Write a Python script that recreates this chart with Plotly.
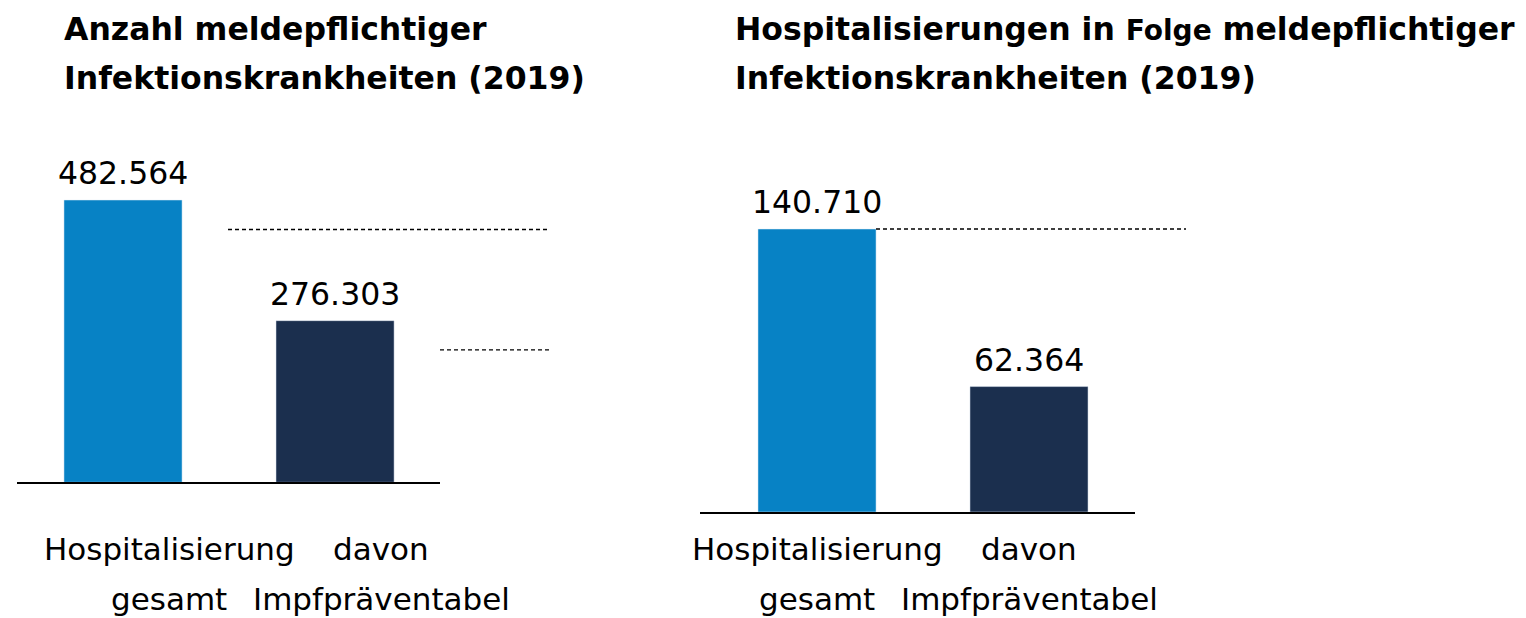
import plotly.graph_objects as go

# ---------------- data ----------------
categories = ["Hospitalisierung gesamt", "davon Impfpräventabel"]
label_line1 = ["Hospitalisierung", "davon"]
label_line2 = ["gesamt", "Impfpräventabel"]

left_title = ["Anzahl meldepflichtiger", "Infektionskrankheiten (2019)"]
right_title = ["Hospitalisierungen in <span style='font-size:28px'>Folge</span> meldepflichtiger",
               "Infektionskrankheiten (2019)"]

left_values = [482564, 276303]
right_values = [140710, 62364]

left_guides = [432100, 226200]   # dashed reference lines (value units)
right_guides = [140710]

bar_colors = ["#0782C5", "#1B2F4E"]

# ---------------- layout helpers ----------------
W, H = 1526, 618
FONT = "DejaVu Sans"


def px_x(p):
    return p / W


def px_y(p):
    return (H - p) / H


xpos = [0, 1]

fig = go.Figure()

fig.add_trace(go.Bar(x=xpos, y=left_values, marker_color=bar_colors, width=0.557,
                     xaxis="x", yaxis="y", hoverinfo="skip", showlegend=False))
fig.add_trace(go.Bar(x=xpos, y=right_values, marker_color=bar_colors, width=0.557,
                     xaxis="x2", yaxis="y2", hoverinfo="skip", showlegend=False))


def fmt(v):
    return f"{v:,}".replace(",", ".")


annotations = []
# value labels
for xa, ya, vals in (("x", "y", left_values), ("x2", "y2", right_values)):
    for xi, v in zip(xpos, vals):
        annotations.append(dict(x=xi, y=v, xref=xa, yref=ya, text=fmt(v), showarrow=False,
                                yanchor="bottom", xanchor="center", yshift=7,
                                font=dict(family=FONT, size=31.5, color="#000")))

# category labels (two lines each)
for xa, offset in (("x", 0.217), ("x2", 0.0)):
    for xi, l1, l2 in zip(xpos, label_line1, label_line2):
        annotations.append(dict(x=xi + offset, y=px_y(569), xref=xa, yref="paper", text=l1,
                                showarrow=False, yanchor="bottom", xanchor="center",
                                font=dict(family=FONT, size=31, color="#000")))
        annotations.append(dict(x=xi + offset, y=px_y(619), xref=xa, yref="paper", text=l2,
                                showarrow=False, yanchor="bottom", xanchor="center",
                                font=dict(family=FONT, size=31, color="#000")))

# titles
for x0, lines in ((62, left_title), (733, right_title)):
    for line, base in zip(lines, (49, 98)):
        annotations.append(dict(x=px_x(x0), y=px_y(base), xref="paper", yref="paper",
                                text=f"<b>{line}</b>", showarrow=False,
                                xanchor="left", yanchor="bottom",
                                font=dict(family=FONT, size=31.5, color="#000")))

# dashed guide lines
dash_style = dict(color="#000000", width=1.3, dash="4px,3px")
shapes = []
for (xa, xb), yv in zip(((228, 549), (440, 549)), left_guides):
    shapes.append(dict(type="line", xref="paper", yref="y", x0=px_x(xa), x1=px_x(xb),
                       y0=yv, y1=yv, line=dash_style))
for (xa, xb), yv in zip(((876, 1186),), right_guides):
    shapes.append(dict(type="line", xref="paper", yref="y2", x0=px_x(xa), x1=px_x(xb),
                       y0=yv, y1=yv, line=dash_style))

axis_common = dict(showgrid=False, zeroline=False, showticklabels=False, ticks="",
                   fixedrange=True)

fig.update_layout(
    width=W, height=H,
    margin=dict(l=0, r=0, t=0, b=0),
    paper_bgcolor="white", plot_bgcolor="white",
    showlegend=False,
    xaxis=dict(domain=[px_x(17), px_x(440)], range=[-0.5, 1.495], showline=True,
               linecolor="black", linewidth=2, anchor="y", **axis_common),
    yaxis=dict(domain=[px_y(482.3), 1], range=[0, 824431], showline=False,
               anchor="x", **axis_common),
    xaxis2=dict(domain=[px_x(700), px_x(1135)], range=[-0.552, 1.5], showline=True,
                linecolor="black", linewidth=2, anchor="y2", **axis_common),
    yaxis2=dict(domain=[px_y(512), 1], range=[0, 254569], showline=False,
                anchor="x2", **axis_common),
    annotations=annotations,
    shapes=shapes,
)

fig.write_html("out.html",
               config={"displayModeBar": False},
               post_script="document.body.style.margin='0';document.body.style.overflow='hidden';")
